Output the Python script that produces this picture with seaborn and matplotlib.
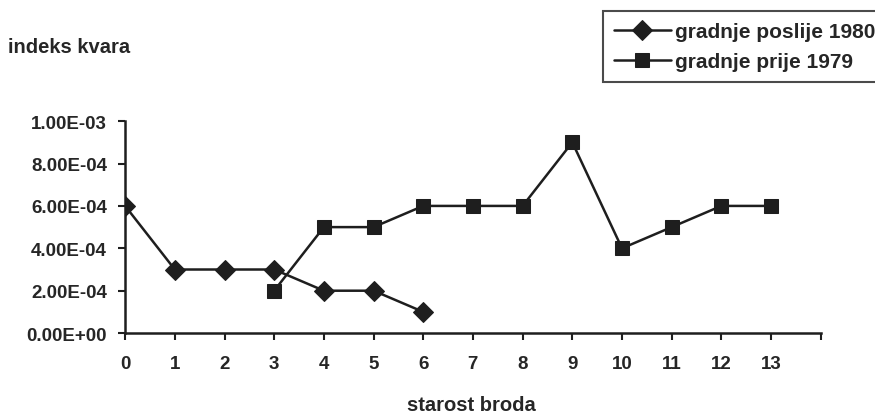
import pandas as pd
import matplotlib
matplotlib.use('Agg')
import matplotlib.pyplot as plt
import seaborn as sns

sns.set_style('white')
plt.rcParams['font.family'] = ['Liberation Sans', 'DejaVu Sans']
plt.rcParams['font.weight'] = 'bold'

# starost broda / indeks kvara
age_after = [0, 1, 2, 3, 4, 5, 6]
idx_after = [6e-4, 3e-4, 3e-4, 3e-4, 2e-4, 2e-4, 1e-4]
age_before = [3, 4, 5, 6, 7, 8, 9, 10, 11, 12, 13]
idx_before = [2e-4, 5e-4, 5e-4, 6e-4, 6e-4, 6e-4, 9e-4, 4e-4, 5e-4, 6e-4, 6e-4]
y_ticks = [0, 2e-4, 4e-4, 6e-4, 8e-4, 1e-3]
y_labels = ['0.00E+00', '2.00E-04', '4.00E-04', '6.00E-04', '8.00E-04', '1.00E-03']

after = pd.DataFrame({'age': age_after, 'idx': idx_after})
before = pd.DataFrame({'age': age_before, 'idx': idx_before})

fig = plt.figure(figsize=(8.75, 4.14), dpi=100)
ax = fig.add_axes([0.143, 0.193, 0.795, 0.512])

c = '#1e1e1e'
sns.lineplot(data=after, x='age', y='idx', marker='D', markersize=10, color=c,
             linewidth=1.8, markeredgecolor=c, ax=ax, label='gradnje poslije 1980')
sns.lineplot(data=before, x='age', y='idx', marker='s', markersize=9.5, color=c,
             linewidth=1.8, markeredgecolor=c, ax=ax, label='gradnje prije 1979')

ax.set_xlim(0, 14)
ax.set_ylim(0, 1e-3)
ax.set_xticks(range(0, 15))
ax.set_xticklabels([str(i) for i in range(0, 14)] + [''])
ax.set_yticks(y_ticks)
ax.set_yticklabels(y_labels)
ax.tick_params(axis='both', direction='out', length=5, width=1.5, color=c,
               labelsize=13.5, left=True, bottom=True)
ax.tick_params(axis='x', pad=11)
ax.tick_params(axis='y', pad=8)
ax.spines[['right', 'top']].set_visible(False)
for s in ['left', 'bottom']:
    ax.spines[s].set_linewidth(1.8)
    ax.spines[s].set_color(c)
ax.set_xlabel('')
ax.set_ylabel('')
fig.text(0.009, 0.885, 'indeks kvara', fontsize=14.5, fontweight='bold', va='center')
fig.text(0.539, 0.008, 'starost broda', fontsize=14.5, fontweight='bold', ha='center', va='baseline')

leg = ax.legend(loc='upper left', bbox_to_anchor=(0.689, 0.971), bbox_transform=fig.transFigure,
                frameon=True, fancybox=False, fontsize=15, handlelength=2.7,
                borderpad=0.55, labelspacing=0.5, handletextpad=0.2, borderaxespad=0)
leg.get_frame().set_edgecolor(c)
leg.get_frame().set_linewidth(1.5)

fig.savefig('out.png', dpi=100)
